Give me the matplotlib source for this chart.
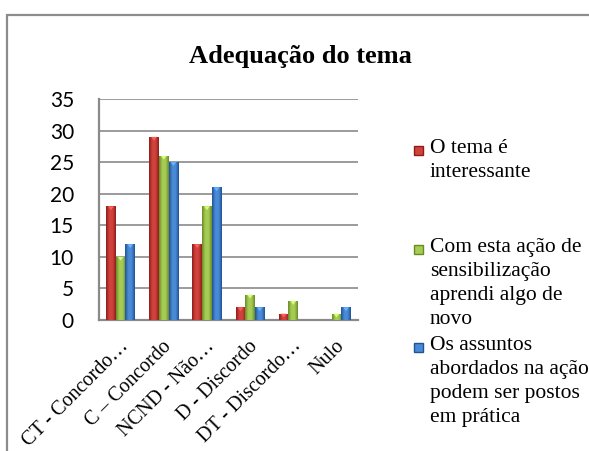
import numpy as np
import matplotlib.pyplot as plt
import matplotlib.transforms as mtransforms
from matplotlib.colors import LinearSegmentedColormap, to_rgb
from matplotlib.patches import Rectangle, Polygon

categories = ["CT - Concordo…", "C – Concordo", "NCND - Não…",
              "D - Discordo", "DT - Discordo…", "Nulo"]
series_names = [["O tema é", "interessante"],
                ["Com esta ação de", "sensibilização", "aprendi algo de", "novo"],
                ["Os assuntos", "abordados na ação", "podem ser postos", "em prática"]]
tema_interessante = [18, 29, 12, 2, 1, 0]
aprendi_algo_novo = [10, 26, 18, 4, 3, 1]
assuntos_pratica = [12, 25, 21, 2, 0, 2]
yticks = [0, 5, 10, 15, 20, 25, 30, 35]

series = [tema_interessante, aprendi_algo_novo, assuntos_pratica]
colors = [("#8e1c1a", "#d0423c"), ("#6a8a26", "#a5cc55"), ("#1f5394", "#4a8ad6")]

W, H = 589, 451
fig = plt.figure(figsize=(W / 100, H / 100), dpi=100)
fig.patches.append(Rectangle((7 / W, -0.1), 1.2, 1 - 15 / H + 0.1,
                             transform=fig.transFigure, fill=False,
                             edgecolor="#8c8c8c", linewidth=1.6))

ax = fig.add_axes([99 / W, 1 - 320 / H, 259 / W, 221 / H])
x = np.arange(len(categories))
w = 0.224


def grad_bar(ax, bar, dark, light):
    cmap = LinearSegmentedColormap.from_list("g", [dark, light, light, dark])
    x0, y0 = bar.get_x(), bar.get_y()
    bw, bh = bar.get_width(), bar.get_height()
    if bh <= 0:
        return
    g = np.linspace(0, 1, 64).reshape(1, -1)
    im = ax.imshow(g, cmap=cmap, extent=[x0, x0 + bw, y0, y0 + bh],
                   aspect="auto", zorder=3, interpolation="bilinear")
    im.set_clip_path(bar)
    bar.set_facecolor("none")
    tri_h = min(0.6, bh)
    lt = tuple(min(1, c * 1.15 + 0.08) for c in to_rgb(light))
    ax.add_patch(Polygon([[x0 + bw * 0.2, y0 + bh], [x0 + bw * 0.8, y0 + bh],
                          [x0 + bw / 2, y0 + bh - tri_h]],
                         closed=True, facecolor=lt, edgecolor="none", zorder=4))


for i, (vals, (dark, light)) in enumerate(zip(series, colors)):
    bars = ax.bar(x + (i - 1) * w, vals, w, color=light, edgecolor="none", zorder=3)
    for b in bars:
        grad_bar(ax, b, dark, light)

ax.set_xlim(-0.5, len(categories) - 0.5)
ax.set_ylim(0, 35)
ax.set_yticks(yticks)
ax.set_yticklabels([str(t) for t in yticks], fontsize=15, family="Lato")
ax.yaxis.grid(True, color="#8a8a8a", linewidth=1.2, zorder=0)
ax.set_axisbelow(True)
ax.tick_params(axis="y", length=0, pad=18)
ax.tick_params(axis="x", length=0, pad=17)
ax.set_xticks(x)
ax.set_xticklabels(categories, rotation=45, ha="right", va="center",
                   rotation_mode="anchor", fontsize=14.5, family="Liberation Serif")
shift = mtransforms.ScaledTranslation(5 / 100, 0, fig.dpi_scale_trans)
for lbl in ax.get_xticklabels():
    lbl.set_transform(lbl.get_transform() + shift)
for s in ["top", "right"]:
    ax.spines[s].set_visible(False)
for s in ["left", "bottom"]:
    ax.spines[s].set_color("#8a8a8a")
    ax.spines[s].set_linewidth(1.6)

fig.text(300 / W, 1 - 56 / H, "Adequação do tema", ha="center", va="center",
         fontsize=19, fontweight="bold", family="Liberation Serif")

# legend entries placed like the Excel legend, one text per line
leg_base = [153, 252, 350]
line_gap = 24
for lines, (dark, light), yy in zip(series_names, colors, leg_base):
    fig.patches.append(Rectangle((414 / W, 1 - (yy + 2) / H), 9 / W, 9 / H,
                                 transform=fig.transFigure, facecolor=light,
                                 edgecolor=dark, linewidth=1))
    for k, line in enumerate(lines):
        fig.text(430 / W, 1 - (yy + k * line_gap) / H, line, ha="left",
                 va="baseline", fontsize=15.5, family="Liberation Serif")

fig.savefig("out.png", dpi=100)
